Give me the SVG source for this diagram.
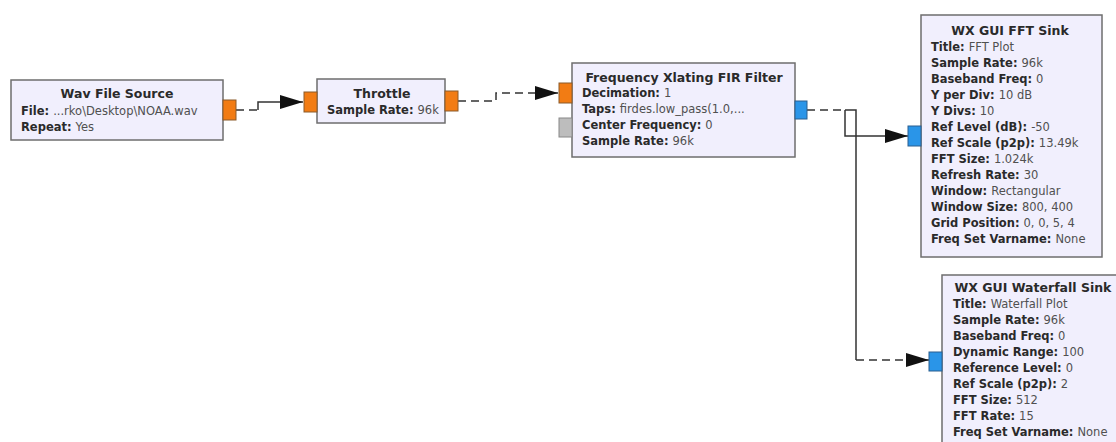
<svg xmlns="http://www.w3.org/2000/svg" width="1116" height="442" viewBox="0 0 1116 442">
<style>
.box{fill:#f1effd;stroke:#6e6e6e;stroke-width:1.5}
.pf{fill:#f27c14;stroke:#8a5a2a;stroke-width:1}
.pc{fill:#2a95e8;stroke:#2a5f8f;stroke-width:1}
.pg{fill:#bdbdbd;stroke:#888;stroke-width:1}
text{font-family:"DejaVu Sans","Liberation Sans",sans-serif;fill:#2a2a2a}
.t{font-size:12.5px;font-weight:bold;text-anchor:middle}
.p{font-size:11.5px;font-weight:bold}
.v{font-weight:normal;fill:#505050}
.w{fill:none;stroke:#333;stroke-width:1.5}
.d{stroke-dasharray:8 5}
</style>
<defs>
<marker id="ah" markerUnits="userSpaceOnUse" markerWidth="24" markerHeight="16" refX="23" refY="7" orient="auto">
<path d="M0,0 L23,7 L0,14 Z" fill="#111"/>
</marker>
</defs>
<rect width="1116" height="442" fill="#ffffff"/>

<g id="connectors">
<g id="c1"><path class="w d" d="M236,110 H258"/><path class="w" d="M258,110 V102 H303" marker-end="url(#ah)"/></g>
<g id="c2"><path class="w d" d="M458,101 H496 V93 H558" marker-end="url(#ah)"/></g>
<g id="c3"><path class="w d" d="M807,110 H845"/><path class="w" d="M845,110 V136 H908" marker-end="url(#ah)"/></g>
<g id="c4"><path class="w" d="M845,110 H856 V360"/><path class="w d" d="M856,360 H929" marker-end="url(#ah)"/></g>
</g>

<g id="wav_source">
<rect class="box" x="11" y="80" width="212" height="60"/>
<rect class="pf" x="223" y="100" width="13" height="20"/>
<text class="t" x="117" y="98">Wav File Source</text>
<text class="p" x="21" y="115">File: <tspan class="v">...rko\Desktop\NOAA.wav</tspan></text>
<text class="p" x="21" y="131">Repeat: <tspan class="v">Yes</tspan></text>
</g>

<g id="throttle">
<rect class="box" x="317" y="79" width="128" height="44"/>
<rect class="pf" x="304" y="92" width="13" height="20"/>
<rect class="pf" x="445" y="91" width="13" height="20"/>
<text class="t" x="382" y="98">Throttle</text>
<text class="p" x="327" y="114">Sample Rate: <tspan class="v">96k</tspan></text>
</g>

<g id="fir_filter">
<rect class="box" x="572" y="63" width="223" height="94"/>
<rect class="pf" x="559" y="83" width="13" height="20"/>
<rect class="pg" x="559" y="118" width="13" height="19"/>
<rect class="pc" x="795" y="101" width="12" height="18"/>
<text class="t" x="684" y="82">Frequency Xlating FIR Filter</text>
<text class="p" x="582" y="97">Decimation: <tspan class="v">1</tspan></text>
<text class="p" x="582" y="113">Taps: <tspan class="v">firdes.low_pass(1.0,...</tspan></text>
<text class="p" x="582" y="129">Center Frequency: <tspan class="v">0</tspan></text>
<text class="p" x="582" y="145">Sample Rate: <tspan class="v">96k</tspan></text>
</g>

<g id="fft_sink">
<rect class="box" x="921" y="15" width="181" height="242"/>
<rect class="pc" x="908" y="126" width="13" height="20"/>
<text class="t" x="1010" y="35">WX GUI FFT Sink</text>
<text class="p" x="931" y="51">Title: <tspan class="v">FFT Plot</tspan></text>
<text class="p" x="931" y="67">Sample Rate: <tspan class="v">96k</tspan></text>
<text class="p" x="931" y="83">Baseband Freq: <tspan class="v">0</tspan></text>
<text class="p" x="931" y="99">Y per Div: <tspan class="v">10 dB</tspan></text>
<text class="p" x="931" y="115">Y Divs: <tspan class="v">10</tspan></text>
<text class="p" x="931" y="131">Ref Level (dB): <tspan class="v">-50</tspan></text>
<text class="p" x="931" y="147">Ref Scale (p2p): <tspan class="v">13.49k</tspan></text>
<text class="p" x="931" y="163">FFT Size: <tspan class="v">1.024k</tspan></text>
<text class="p" x="931" y="179">Refresh Rate: <tspan class="v">30</tspan></text>
<text class="p" x="931" y="195">Window: <tspan class="v">Rectangular</tspan></text>
<text class="p" x="931" y="211">Window Size: <tspan class="v">800, 400</tspan></text>
<text class="p" x="931" y="227">Grid Position: <tspan class="v">0, 0, 5, 4</tspan></text>
<text class="p" x="931" y="243">Freq Set Varname: <tspan class="v">None</tspan></text>
</g>

<g id="waterfall_sink">
<rect class="box" x="942" y="275" width="184" height="180"/>
<rect class="pc" x="929" y="352" width="13" height="19"/>
<text class="t" x="1033" y="292">WX GUI Waterfall Sink</text>
<text class="p" x="953" y="308">Title: <tspan class="v">Waterfall Plot</tspan></text>
<text class="p" x="953" y="324">Sample Rate: <tspan class="v">96k</tspan></text>
<text class="p" x="953" y="340">Baseband Freq: <tspan class="v">0</tspan></text>
<text class="p" x="953" y="356">Dynamic Range: <tspan class="v">100</tspan></text>
<text class="p" x="953" y="372">Reference Level: <tspan class="v">0</tspan></text>
<text class="p" x="953" y="388">Ref Scale (p2p): <tspan class="v">2</tspan></text>
<text class="p" x="953" y="404">FFT Size: <tspan class="v">512</tspan></text>
<text class="p" x="953" y="420">FFT Rate: <tspan class="v">15</tspan></text>
<text class="p" x="953" y="436">Freq Set Varname: <tspan class="v">None</tspan></text>
</g>
</svg>
